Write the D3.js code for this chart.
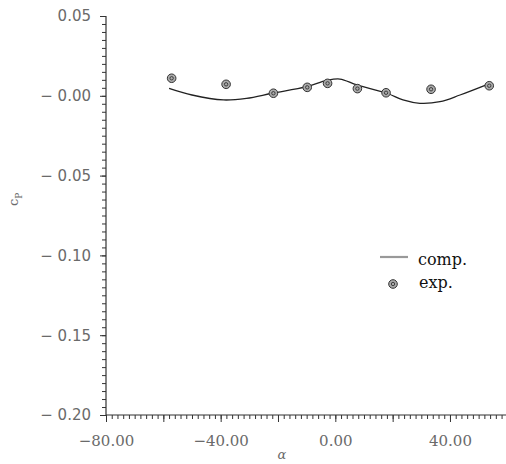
<!DOCTYPE html>
<html>
<head>
<meta charset="utf-8">
<script src="https://cdn.jsdelivr.net/npm/d3@7"></script>
<style>
  html, body { margin: 0; padding: 0; background: #fff; }
  svg { display: block; }
</style>
</head>
<body>
<svg id="chart" width="506" height="464"></svg>
<script>
// ---- data ----
const compAlpha = [-58, -50, -39, -31, -22, -10, -3, 1.6, 7.5, 18, 23.6, 29.5, 36.5, 43.5, 54];
const compCp    = [0.0047, 0.0005, -0.0026, -0.0016, 0.0016, 0.0057, 0.0096, 0.0105, 0.0068, 0.0016, -0.0026, -0.0047, -0.0037, 0.0005, 0.0078];
const expAlpha  = [-57.1, -38.1, -21.6, -9.8, -2.7, 7.7, 17.7, 33.4, 53.7];
const expCp     = [0.0110, 0.0072, 0.0016, 0.0053, 0.0078, 0.0045, 0.0019, 0.0041, 0.0063];
const xTickValues = [-80, -40, 0, 40];
const xTickLabels = ["\u221280.00", "\u221240.00", "0.00", "40.00"];
const yTickValues = [0.05, 0.00, -0.05, -0.10, -0.15, -0.20];
const yTickLabels = ["0.05", "\u2212 0.00", "\u2212 0.05", "\u2212 0.10", "\u2212 0.15", "\u2212 0.20"];
const legendLabels = ["comp.", "exp."];

// ---- layout ----
const svg = d3.select("#chart");
const x = d3.scaleLinear().domain([-80, 60]).range([106, 507.3]);
const y = d3.scaleLinear().domain([-0.20, 0.05]).range([415, 16]);
const axisColor = "#333";
const labelColor = "#6a6a6a";

// minor ticks x
const xMinor = d3.range(-80, 60.001, 2);
const xMajor = d3.range(-80, 60.001, 20);
const gx = svg.append("g").attr("transform", `translate(0,${y(-0.20)})`);
gx.append("g").call(d3.axisBottom(x).tickValues(xMinor).tickSize(4).tickFormat(""))
  .call(g => { g.select(".domain").remove(); g.selectAll("line").attr("stroke", axisColor); });
gx.append("g").call(d3.axisBottom(x).tickValues(xMajor).tickSize(7).tickFormat(""))
  .call(g => { g.select(".domain").remove(); g.selectAll("line").attr("stroke", axisColor); });
gx.append("g").call(d3.axisBottom(x).tickValues(xTickValues).tickSize(0).tickPadding(20)
    .tickFormat((d, i) => xTickLabels[i]))
  .call(g => { g.select(".domain").remove();
    g.selectAll("text").attr("fill", labelColor).attr("font-family", "DejaVu Serif").attr("font-size", 15); });
gx.append("line").attr("x1", x(-80)).attr("x2", 506).attr("y1", 0).attr("y2", 0)
  .attr("stroke", axisColor).attr("stroke-width", 1.2);

// y axis
const yMinor = d3.range(0, 51).map(i => -0.20 + i * 0.005);
const gy = svg.append("g").attr("transform", `translate(${x(-80)},0)`);
gy.append("g").call(d3.axisLeft(y).tickValues(yMinor).tickSize(4).tickFormat(""))
  .call(g => { g.select(".domain").remove(); g.selectAll("line").attr("stroke", axisColor); });
gy.append("g").call(d3.axisLeft(y).tickValues(yTickValues).tickSize(6).tickPadding(9)
    .tickFormat((d, i) => yTickLabels[i]))
  .call(g => { g.select(".domain").remove(); g.selectAll("line").attr("stroke", axisColor);
    g.selectAll("text").attr("fill", labelColor).attr("font-family", "DejaVu Sans").attr("font-size", 15)
      .attr("xml:space", "preserve").style("white-space", "pre"); });
gy.append("line").attr("x1", 0).attr("x2", 0).attr("y1", y(0.05)).attr("y2", y(-0.20))
  .attr("stroke", axisColor).attr("stroke-width", 1.2);

// axis titles
svg.append("text").attr("x", 282).attr("y", 459).attr("text-anchor", "middle")
  .attr("font-family", "DejaVu Serif").attr("font-style", "italic").attr("font-size", 13)
  .attr("fill", labelColor).text("\u03b1");
const yt = svg.append("text").attr("transform", "translate(18,206) rotate(-90)")
  .attr("font-family", "DejaVu Serif").attr("font-size", 13).attr("fill", labelColor);
yt.append("tspan").text("c");
yt.append("tspan").attr("dy", 4).attr("font-size", 9).text("P");

// comp curve
const line = d3.line().x(d => x(d[0])).y(d => y(d[1])).curve(d3.curveCatmullRom);
svg.append("path").datum(compAlpha.map((a, i) => [a, compCp[i]]))
  .attr("d", line).attr("fill", "none").attr("stroke", "#222").attr("stroke-width", 1.3);

// exp markers
function marker(g) {
  g.append("circle").attr("r", 4.3).attr("fill", "#aaa").attr("stroke", "#333").attr("stroke-width", 1);
  g.append("circle").attr("r", 1.7).attr("fill", "none").attr("stroke", "#333").attr("stroke-width", 0.9);
}
svg.append("g").selectAll("g").data(expAlpha.map((a, i) => [a, expCp[i]])).join("g")
  .attr("transform", d => `translate(${x(d[0])},${y(d[1])})`).each(function() { marker(d3.select(this)); });

// legend
svg.append("line").attr("x1", 380).attr("x2", 408).attr("y1", 257).attr("y2", 257)
  .attr("stroke", "#999").attr("stroke-width", 2.2);
svg.append("text").attr("x", 418).attr("y", 265).attr("font-family", "DejaVu Serif")
  .attr("font-size", 16).attr("fill", "#111").text(legendLabels[0]);
marker(svg.append("g").attr("transform", "translate(393,284)"));
svg.append("text").attr("x", 419).attr("y", 288).attr("font-family", "DejaVu Serif")
  .attr("font-size", 16).attr("fill", "#111").text(legendLabels[1]);
</script>
</body>
</html>
